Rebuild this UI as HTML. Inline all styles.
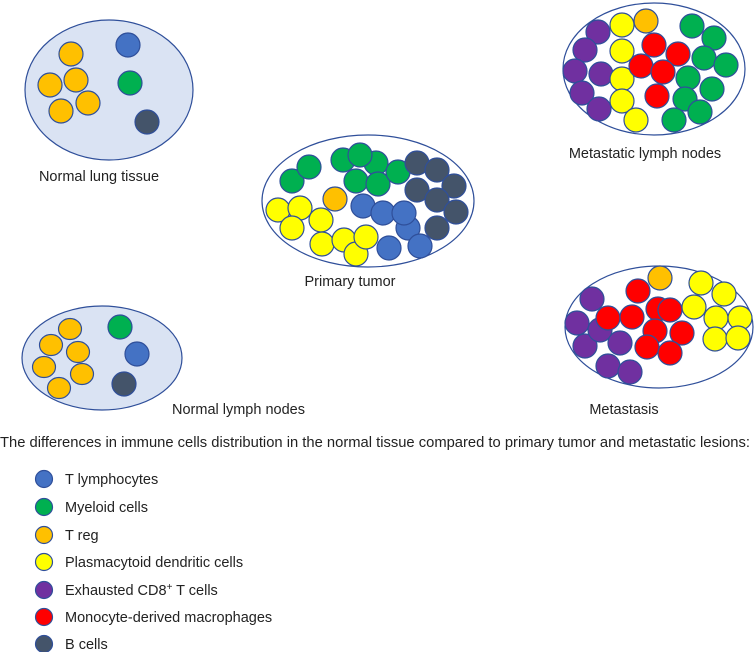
<!DOCTYPE html>
<html><head><meta charset="utf-8"><style>
body{margin:0;background:#fff;}
svg{display:block;font-family:"Liberation Sans",Arial,sans-serif;}
</style></head><body>
<svg width="756" height="652" viewBox="0 0 756 652">
<g stroke="#2f4f9a" stroke-width="1.2">
<ellipse cx="109" cy="90" rx="84" ry="70" fill="#dae3f3"/>
<g fill="#ffc000"><circle cx="71" cy="54" r="12"/><circle cx="50" cy="85" r="12"/><circle cx="76" cy="80" r="12"/><circle cx="61" cy="111" r="12"/><circle cx="88" cy="103" r="12"/></g>
<circle cx="128" cy="45" r="12" fill="#4472c4"/>
<circle cx="130" cy="83" r="12" fill="#00b050"/>
<circle cx="147" cy="122" r="12" fill="#44546a"/>
<ellipse cx="102" cy="358" rx="80" ry="52" fill="#dae3f3"/>
<g fill="#ffc000"><ellipse cx="70" cy="329" rx="11.5" ry="10.5"/><ellipse cx="51" cy="345" rx="11.5" ry="10.5"/><ellipse cx="78" cy="352" rx="11.5" ry="10.5"/><ellipse cx="44" cy="367" rx="11.5" ry="10.5"/><ellipse cx="82" cy="374" rx="11.5" ry="10.5"/><ellipse cx="59" cy="388" rx="11.5" ry="10.5"/></g>
<circle cx="120" cy="327" r="12" fill="#00b050"/>
<circle cx="137" cy="354" r="12" fill="#4472c4"/>
<circle cx="124" cy="384" r="12" fill="#44546a"/>
<ellipse cx="368" cy="201" rx="106" ry="66" fill="#fff"/>
<g fill="#00b050"><circle cx="292" cy="181" r="12"/><circle cx="309" cy="167" r="12"/><circle cx="343" cy="160" r="12"/><circle cx="376" cy="163" r="12"/><circle cx="360" cy="155" r="12"/><circle cx="356" cy="181" r="12"/><circle cx="378" cy="184" r="12"/><circle cx="398" cy="172" r="12"/></g>
<circle cx="335" cy="199" r="12" fill="#ffc000"/>
<g fill="#44546a"><circle cx="417" cy="163" r="12"/><circle cx="437" cy="170" r="12"/><circle cx="454" cy="186" r="12"/><circle cx="417" cy="190" r="12"/><circle cx="437" cy="200" r="12"/><circle cx="456" cy="212" r="12"/><circle cx="437" cy="228" r="12"/></g>
<g fill="#4472c4"><circle cx="363" cy="206" r="12"/><circle cx="383" cy="213" r="12"/><circle cx="408" cy="228" r="12"/><circle cx="404" cy="213" r="12"/><circle cx="420" cy="246" r="12"/><circle cx="389" cy="248" r="12"/></g>
<g fill="#ffff00"><circle cx="278" cy="210" r="12"/><circle cx="300" cy="208" r="12"/><circle cx="292" cy="228" r="12"/><circle cx="321" cy="220" r="12"/><circle cx="322" cy="244" r="12"/><circle cx="344" cy="240" r="12"/><circle cx="356" cy="254" r="12"/><circle cx="366" cy="237" r="12"/></g>
<ellipse cx="654" cy="69" rx="91" ry="66" fill="#fff"/>
<g fill="#7030a0"><circle cx="598" cy="32" r="12"/><circle cx="585" cy="50" r="12"/><circle cx="575" cy="71" r="12"/><circle cx="601" cy="74" r="12"/><circle cx="582" cy="93" r="12"/><circle cx="599" cy="109" r="12"/></g>
<g fill="#ffff00"><circle cx="622" cy="25" r="12"/><circle cx="622" cy="51" r="12"/><circle cx="622" cy="79" r="12"/><circle cx="622" cy="101" r="12"/><circle cx="636" cy="120" r="12"/></g>
<circle cx="646" cy="21" r="12" fill="#ffc000"/>
<g fill="#ff0000"><circle cx="654" cy="45" r="12"/><circle cx="678" cy="54" r="12"/><circle cx="641" cy="66" r="12"/><circle cx="663" cy="72" r="12"/><circle cx="657" cy="96" r="12"/></g>
<g fill="#00b050"><circle cx="692" cy="26" r="12"/><circle cx="714" cy="38" r="12"/><circle cx="704" cy="58" r="12"/><circle cx="726" cy="65" r="12"/><circle cx="688" cy="78" r="12"/><circle cx="712" cy="89" r="12"/><circle cx="685" cy="99" r="12"/><circle cx="700" cy="112" r="12"/><circle cx="674" cy="120" r="12"/></g>
<ellipse cx="659" cy="327" rx="94" ry="61" fill="#fff"/>
<circle cx="660" cy="278" r="12" fill="#ffc000"/>
<g fill="#7030a0"><circle cx="592" cy="299" r="12"/><circle cx="577" cy="323" r="12"/><circle cx="585" cy="346" r="12"/><circle cx="600" cy="330" r="12"/><circle cx="620" cy="343" r="12"/><circle cx="608" cy="366" r="12"/><circle cx="630" cy="372" r="12"/></g>
<g fill="#ff0000"><circle cx="638" cy="291" r="12"/><circle cx="608" cy="318" r="12"/><circle cx="632" cy="317" r="12"/><circle cx="658" cy="309" r="12"/><circle cx="670" cy="310" r="12"/><circle cx="655" cy="331" r="12"/><circle cx="682" cy="333" r="12"/><circle cx="647" cy="347" r="12"/><circle cx="670" cy="353" r="12"/></g>
<g fill="#ffff00"><circle cx="701" cy="283" r="12"/><circle cx="724" cy="294" r="12"/><circle cx="694" cy="307" r="12"/><circle cx="716" cy="318" r="12"/><circle cx="740" cy="318" r="12"/><circle cx="715" cy="339" r="12"/><circle cx="738" cy="338" r="12"/></g>
<circle cx="44" cy="479" r="8.5" fill="#4472c4"/>
<circle cx="44" cy="507" r="8.5" fill="#00b050"/>
<circle cx="44" cy="535" r="8.5" fill="#ffc000"/>
<circle cx="44" cy="562" r="8.5" fill="#ffff00"/>
<circle cx="44" cy="590" r="8.5" fill="#7030a0"/>
<circle cx="44" cy="617" r="8.5" fill="#ff0000"/>
<circle cx="44" cy="644" r="8.5" fill="#44546a"/>
</g>
<g font-size="14.5" fill="#222">
<text x="99" y="181" text-anchor="middle">Normal lung tissue</text>
<text x="350" y="286" text-anchor="middle">Primary tumor</text>
<text x="645" y="158" text-anchor="middle">Metastatic lymph nodes</text>
<text x="624" y="414" text-anchor="middle">Metastasis</text>
<text x="172" y="414">Normal lymph nodes</text>
<text x="0" y="447" textLength="750" lengthAdjust="spacingAndGlyphs">The differences in immune cells distribution in the normal tissue compared to primary tumor and metastatic lesions:</text>
<text x="65" y="484">T lymphocytes</text>
<text x="65" y="512">Myeloid cells</text>
<text x="65" y="540">T reg</text>
<text x="65" y="567">Plasmacytoid dendritic cells</text>
<text x="65" y="595">Exhausted CD8<tspan font-size="10" dy="-5">+</tspan><tspan dy="5"> T cells</tspan></text>
<text x="65" y="622">Monocyte-derived macrophages</text>
<text x="65" y="649">B cells</text>
</g>
</svg>
</body></html>
